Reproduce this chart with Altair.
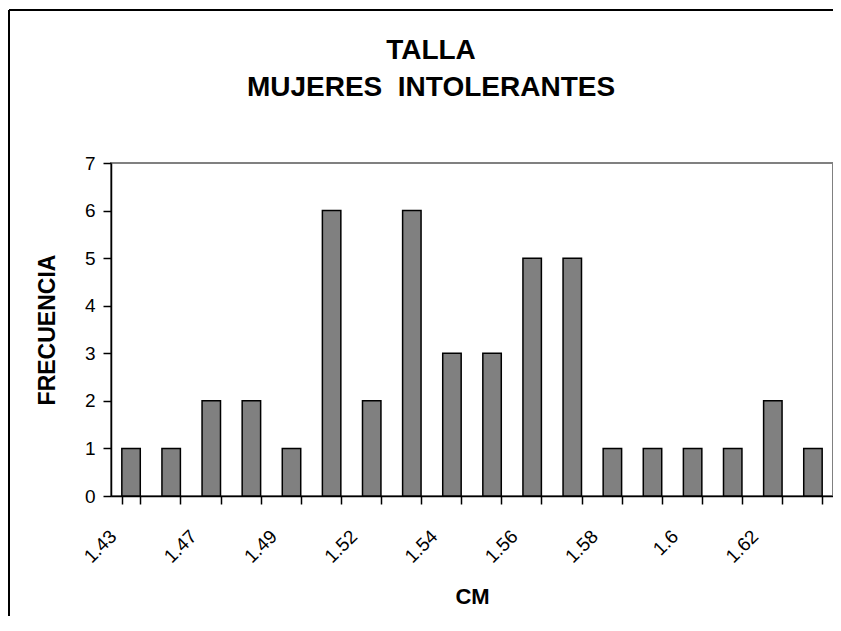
import altair as alt
import pandas as pd

categories = ["1.43", "1.45", "1.47", "1.48", "1.49", "1.5", "1.52", "1.53", "1.54",
              "1.55", "1.56", "1.57", "1.58", "1.59", "1.6", "1.61", "1.62", "1.63"]
frecuencia = [1, 1, 2, 2, 1, 6, 2, 6, 3, 3, 5, 5, 1, 1, 1, 1, 2, 1]
shown_labels = categories[::2]
y_ticks = [0, 1, 2, 3, 4, 5, 6, 7]

df = pd.DataFrame({"cm": categories, "freq": frecuencia})
FONT = "Liberation Sans"

label_list = "[" + ",".join("'" + s + "'" for s in shown_labels) + "]"

bars = alt.Chart(df).mark_bar(color="#808080", stroke="black", strokeWidth=1.5).encode(
    x=alt.X(
        "cm:N",
        sort=None,
        scale=alt.Scale(paddingInner=0.54, paddingOuter=0.27),
        axis=alt.Axis(
            title="CM",
            titleFont=FONT,
            titleFontSize=22,
            titleFontWeight="bold",
            titleColor="black",
            titleY=107,
            titleBaseline="alphabetic",
            labelExpr="indexof(" + label_list + ", datum.value) >= 0 ? datum.label : ''",
            labelFont=FONT,
            labelFontSize=19,
            labelColor="black",
            labelAngle=315,
            labelAlign="right",
            labelBaseline="middle",
            labelOffset=-18,
            labelPadding=29,
            labelOverlap=False,
            labelBound=False,
            labelFlush=False,
            tickBand="extent",
            tickSize=8,
            tickColor="black",
            tickWidth=1.5,
            domainColor="black",
            domainWidth=1.5,
            grid=False,
        ),
    ),
    y=alt.Y(
        "freq:Q",
        scale=alt.Scale(domain=[0, 7], nice=False),
        axis=alt.Axis(
            title="FRECUENCIA",
            titleFont=FONT,
            titleFontSize=23,
            titleFontWeight="bold",
            titleColor="black",
            titleX=-64,
            titleBaseline="middle",
            values=y_ticks,
            labelFont=FONT,
            labelFontSize=19,
            labelColor="black",
            labelPadding=8,
            tickSize=8,
            tickColor="black",
            tickWidth=1.5,
            domainColor="black",
            domainWidth=1.5,
            grid=False,
        ),
    ),
)

one = pd.DataFrame({"f": [0]})
frame_top = alt.Chart(one).mark_rule(color="black", strokeWidth=2).encode(
    x=alt.value(-102), x2=alt.value(722), y=alt.value(-153)
)
frame_left = alt.Chart(one).mark_rule(color="black", strokeWidth=2).encode(
    x=alt.value(-102), y=alt.value(-153), y2=alt.value(453)
)

chart = alt.layer(bars, frame_top, frame_left).properties(
    width=722,
    height=333,
    padding={"left": 103, "top": 155, "right": 0, "bottom": 120},
    autosize=alt.AutoSizeParams(type="none"),
    title=alt.TitleParams(
        text=["TALLA", "MUJERES\u00a0 INTOLERANTES"],
        font=FONT,
        fontSize=28,
        fontWeight="bold",
        color="black",
        lineHeight=37,
        anchor="middle",
        frame="group",
        dx=-41,
        offset=0,
        dy=121,
        baseline="bottom",
    ),
).configure_view(stroke="#808080", strokeWidth=2)

chart.save("out.html", embed_options={"renderer": "svg", "actions": False})
